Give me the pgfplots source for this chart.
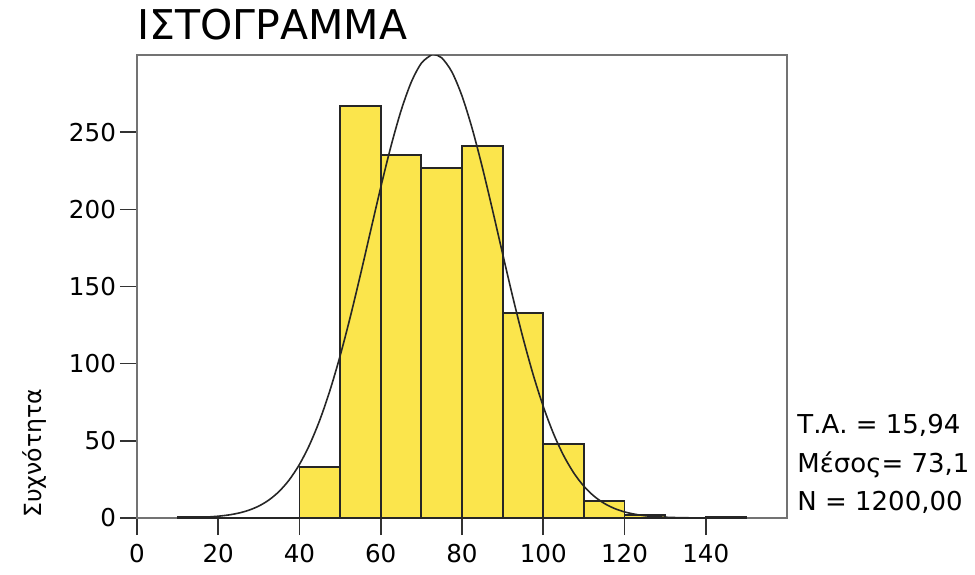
\documentclass[border=0pt]{standalone}
\usepackage{fontspec}
\setmainfont{DejaVu Sans}
\usepackage{pgfplots}
\pgfplotsset{compat=1.18}
\definecolor{baryellow}{RGB}{251,229,76}
\definecolor{framegray}{RGB}{115,115,115}
\begin{document}
\begin{tikzpicture}
\useasboundingbox (-68.5pt,-28pt) rectangle (419pt,259pt);
\begin{axis}[
  at={(0,0)}, anchor=south west, scale only axis,
  width=325pt, height=231.5pt,
  xmin=0, xmax=160, ymin=0, ymax=300,
  xtick={0,20,...,140}, ytick={0,50,...,250},
  tick pos=left,
  axis line style={framegray, line width=1pt},
  tick align=outside, major tick length=8.5pt,
  tick style={black!80, line width=0.8pt},
  ticklabel style={font=\fontsize{12.3}{14}\selectfont},
  xticklabel style={yshift=-1pt},
  yticklabel style={xshift=1.5pt},
  /pgf/number format/assume math mode=true,
]
\addplot[ybar interval, fill=baryellow, draw=black!85, line width=0.9pt] coordinates {
(10,1) (20,0) (30,0) (40,33) (50,267) (60,235) (70,227) (80,241) (90,133) (100,48) (110,11) (120,2) (130,0) (140,1) (150,0)
};
\addplot[black!85, line width=0.8pt, smooth] coordinates {
(10,0.119) (12.5,0.218) (15,0.391) (17.5,0.685) (20,1.169) (22.5,1.948) (25,3.166) (27.5,5.019)
(30,7.764) (32.5,11.72) (35,17.26) (37.5,24.80) (40,34.78) (42.5,47.58) (45,63.50) (47.5,82.70)
(50,105.08) (52.5,130.29) (55,157.62) (57.5,186.05) (60,214.26) (62.5,240.75) (65,263.95) (67.5,282.36)
(70,294.70) (72.5,300.12) (73.1,300.33) (75,298.20) (77.5,289.10) (80,273.47) (82.5,252.40) (85,227.28)
(87.5,199.71) (90,171.20) (92.5,143.20) (95,116.87) (97.5,93.07) (100,72.30) (102.5,54.81) (105,40.54)
(107.5,29.26) (110,20.61) (112.5,14.16) (115,9.49) (117.5,6.21) (120,3.96) (122.5,2.47) (125,1.50)
(127.5,0.889) (130,0.514) (132.5,0.290) (135,0.160) (137.5,0.086) (140,0.045) (145,0.011) (150,0.003)
};
\end{axis}
\node[anchor=base west, inner sep=0pt, font=\fontsize{20.5}{24}\selectfont] at (0pt,239pt) {ΙΣΤΟΓΡΑΜΜΑ};
\node[rotate=90, anchor=base west, inner sep=0pt, font=\fontsize{11.8}{14}\selectfont] at (-47.5pt,0pt) {Συχνότητα};
\node[anchor=base west, inner sep=0pt, font=\fontsize{13}{15}\selectfont] at (330pt,42.5pt) {Τ.Α. = 15,94};
\node[anchor=base west, inner sep=0pt, font=\fontsize{13}{15}\selectfont] at (330pt,23pt) {Μέσος= 73,1};
\node[anchor=base west, inner sep=0pt, font=\fontsize{13}{15}\selectfont] at (330pt,4pt) {N = 1200,00};
\end{tikzpicture}
\end{document}
